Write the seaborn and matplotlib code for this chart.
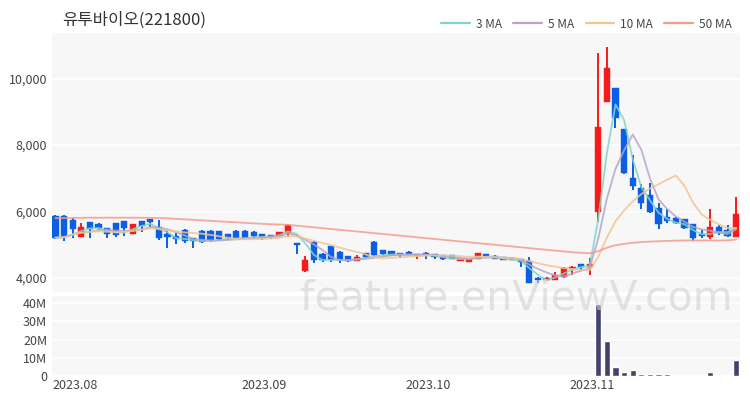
import numpy as np
import pandas as pd
import matplotlib
matplotlib.use("Agg")
import matplotlib.pyplot as plt
from matplotlib.lines import Line2D
import seaborn as sns

# ---------------- data ----------------
dates = (
    ["2023-07-27", "2023-07-28", "2023-07-31"]
    + ["2023-08-%02d" % d for d in [1, 2, 3, 4, 7, 8, 9, 10, 11, 14, 16, 17, 18, 21, 22, 23, 24, 25, 28, 29, 30, 31]]
    + ["2023-09-%02d" % d for d in [1, 4, 5, 6, 7, 8, 11, 12, 13, 14, 15, 18, 19, 20, 21, 22, 25, 26, 27]]
    + ["2023-10-%02d" % d for d in [4, 5, 6, 10, 11, 12, 13, 16, 17, 18, 19, 20, 23, 24, 25, 26, 27, 30, 31]]
    + ["2023-11-%02d" % d for d in [1, 2, 3, 6, 7, 8, 9, 10, 13, 14, 15, 16, 17, 20, 21, 22, 23]]
)

opens = [5875, 5875, 5745, 5243, 5675, 5615, 5494, 5645, 5715, 5323,
         5715, 5765, 5544, 5314, 5263, 5444, 5193, 5424, 5424, 5414,
         5314, 5424, 5424, 5394, 5314, 5293, 5273, 5363, 5053, 4200,
         5093, 4712, 4963, 4792, 4662, 4521, 4742, 5093, 4842, 4802,
         4742, 4792, 4652, 4762, 4712, 4692, 4682, 4511, 4491, 4572,
         4722, 4662, 4622, 4612, 4570, 4501, 4010, 3940, 3940, 4020,
         4260, 4421, 4321, 5995, 9304, 9705, 8472, 7018, 6697, 6497,
         6096, 5845, 5815, 5765, 5614, 5324, 5223, 5524, 5454, 5223]
highs = [5895, 5895, 5795, 5644, 5700, 5645, 5515, 5660, 5730, 5640,
         5730, 5775, 5735, 5444, 5344, 5474, 5200, 5430, 5430, 5420,
         5320, 5430, 5430, 5400, 5320, 5300, 5394, 5620, 5063, 4662,
         5100, 4742, 4975, 4800, 4670, 4692, 4750, 5100, 4850, 4810,
         4750, 4800, 4720, 4770, 4720, 4700, 4690, 4570, 4570, 4755,
         4730, 4680, 4630, 4620, 4580, 4642, 4020, 4020, 4190, 4330,
         4350, 4430, 4591, 10758, 10958, 9720, 8480, 7700, 6828, 6868,
         6246, 6066, 5830, 5775, 5620, 5444, 6076, 5595, 5595, 6447]
lows = [5160, 5120, 5193, 5243, 5213, 5444, 5213, 5223, 5273, 5310,
        5394, 5494, 5143, 4893, 5013, 5063, 4913, 5063, 5093, 5130,
        5143, 5193, 5163, 5173, 5133, 5173, 5263, 5243, 4722, 4190,
        4461, 4491, 4491, 4461, 4491, 4510, 4592, 4642, 4692, 4690,
        4612, 4680, 4580, 4572, 4572, 4555, 4560, 4500, 4480, 4565,
        4610, 4570, 4530, 4530, 4341, 3840, 3860, 3930, 3930, 4000,
        4090, 4241, 4090, 5694, 9304, 8527, 7140, 6647, 6066, 5965,
        5484, 5644, 5630, 5464, 5123, 5193, 5163, 5293, 5233, 5223]
closes = [5213, 5243, 5464, 5544, 5474, 5494, 5313, 5293, 5494, 5625,
          5574, 5700, 5193, 5243, 5163, 5123, 5123, 5093, 5143, 5173,
          5193, 5213, 5193, 5263, 5243, 5243, 5374, 5594, 5000, 4541,
          4541, 4541, 4541, 4541, 4521, 4642, 4642, 4692, 4722, 4702,
          4712, 4692, 4712, 4692, 4622, 4572, 4572, 4561, 4561, 4742,
          4622, 4582, 4541, 4541, 4490, 3860, 3940, 4010, 4090, 4310,
          4341, 4341, 4411, 8552, 10307, 8803, 7148, 6767, 6266, 5995,
          5624, 5725, 5644, 5494, 5193, 5263, 5524, 5364, 5253, 5925]
volumes_m = [0.35, 0.30, 0.25, 0.20, 0.18, 0.15, 0.20, 0.18, 0.15, 0.20,
             0.15, 0.12, 0.25, 0.30, 0.20, 0.18, 0.22, 0.15, 0.12, 0.10,
             0.10, 0.10, 0.12, 0.10, 0.10, 0.10, 0.12, 0.25, 0.30, 0.35,
             0.30, 0.15, 0.25, 0.15, 0.12, 0.12, 0.10, 0.25, 0.12, 0.10,
             0.10, 0.10, 0.10, 0.10, 0.10, 0.10, 0.08, 0.08, 0.08, 0.15,
             0.10, 0.08, 0.08, 0.08, 0.12, 0.45, 0.20, 0.12, 0.15, 0.25,
             0.15, 0.12, 0.30, 39.7, 19.0, 5.2, 2.4, 3.4, 1.1, 1.1,
             1.0, 1.0, 0.5, 0.5, 0.7, 0.4, 2.2, 0.4, 0.3, 8.8]
ma50 = [5800, 5805, 5810, 5812, 5815, 5815, 5815, 5815, 5815, 5815,
        5814, 5810, 5805, 5795, 5780, 5765, 5750, 5735, 5720, 5705,
        5690, 5675, 5660, 5645, 5630, 5620, 5610, 5600, 5575, 5550,
        5525, 5500, 5475, 5450, 5425, 5400, 5375, 5350, 5325, 5300,
        5275, 5250, 5225, 5200, 5175, 5150, 5125, 5100, 5075, 5050,
        5025, 5000, 4975, 4950, 4925, 4900, 4875, 4850, 4825, 4800,
        4775, 4760, 4745, 4809, 4912, 4986, 5026, 5059, 5081, 5097,
        5106, 5116, 5125, 5130, 5129, 5129, 5132, 5127, 5132, 5160]

title = "유투바이오(221800)"
month_labels = ["2023.08", "2023.09", "2023.10", "2023.11"]
ma_labels = ["3 MA", "5 MA", "10 MA", "50 MA"]
price_ticks = [4000, 6000, 8000, 10000]
volume_ticks_m = [0, 10, 20, 30, 40]
watermark = "feature.enViewV.com"

# ---------------- styling ----------------
sns.set_theme(style="white")
plt.rcParams["font.family"] = ["Noto Sans CJK KR", "DejaVu Sans"]

UP = "#f71a1a"
DOWN = "#0b5fe6"
MA_COLORS = ["#7fd5c6", "#b7a3ca", "#f3c48f", "#f69a90"]
BG = "#f7f7f7"
TXT = "#444444"

df = pd.DataFrame({"date": pd.to_datetime(dates), "open": opens, "high": highs,
                   "low": lows, "close": closes, "vol": volumes_m, "ma50": ma50})
df["x"] = np.arange(len(df))
df["ma3"] = df["close"].rolling(3, min_periods=1).mean()
df["ma5"] = df["close"].rolling(5, min_periods=1).mean()
df["ma10"] = df["close"].rolling(10, min_periods=1).mean()
df["up"] = df["close"] >= df["open"]
df["color"] = np.where(df["up"], UP, DOWN)

W, H = 750, 400
fig = plt.figure(figsize=(W / 100, H / 100), dpi=100)
ax = fig.add_axes([52 / W, 1 - 292 / H, 688 / W, 259 / H])
axv = fig.add_axes([52 / W, 1 - 376 / H, 688 / W, 80 / H], sharex=ax)

for a in (ax, axv):
    a.set_facecolor(BG)
    for s in a.spines.values():
        s.set_visible(False)
    a.tick_params(length=0, colors=TXT, labelsize=9)
    a.yaxis.grid(True, color="white", lw=1.2)
    a.set_axisbelow(True)

# candles
ax.vlines(df["x"], df["low"], df["high"], colors=df["color"], lw=1.4, zorder=2)
body_low = np.minimum(df["open"], df["close"])
body_h = np.maximum(np.abs(df["close"] - df["open"]), 25)
ax.bar(df["x"], body_h, bottom=body_low, width=0.72, color=df["color"],
       edgecolor=df["color"], lw=0.3, zorder=3)

# moving averages
for col, c, lab in zip(["ma3", "ma5", "ma10", "ma50"], MA_COLORS, ma_labels):
    sns.lineplot(data=df, x="x", y=col, ax=ax, color=c, lw=1.3, alpha=0.85,
                 zorder=4, legend=False)

ax.set_ylim(3580, 11370)
ax.set_yticks(price_ticks)
ax.set_yticklabels([f"{v:,}" for v in price_ticks])
ax.set_xlim(-0.4, len(df) - 0.55)
ax.set_xlabel("")
ax.set_ylabel("")
plt.setp(ax.get_xticklabels(), visible=False)

# volume
axv.bar(df["x"], df["vol"], width=0.72, color="#42426c", zorder=3)
axv.set_ylim(0, 44)
axv.set_yticks(volume_ticks_m)
axv.set_yticklabels(["0" if v == 0 else f"{v}M" for v in volume_ticks_m])
axv.set_ylabel("")
axv.set_xlabel("")

# month ticks at month boundaries
months = df["date"].dt.to_period("M")
first_idx = [int(df.index[months == m][0]) for m in months.unique()
             if df["date"][months == m].iloc[0].day <= 4]
tick_pos = [i - 0.75 for i in first_idx]
axv.set_xticks(tick_pos)
axv.set_xticklabels(month_labels)
axv.tick_params(axis="x", pad=2)

# title, legend, watermark
fig.text(62 / W, 1 - 20 / H, title, fontsize=12, color="#333333", va="center", ha="left")
handles = [Line2D([0], [0], color=c, lw=1.6) for c in MA_COLORS]
fig.legend(handles, ma_labels, loc="center right", bbox_to_anchor=(742 / W, 1 - 24 / H),
           ncol=4, frameon=False, fontsize=8.5, handlelength=2.4, handletextpad=0.5,
           columnspacing=1.0, labelcolor=TXT)
fig.text(300 / W, 1 - 299 / H, watermark, fontsize=29.5, color="#d2d2d2", alpha=0.6,
         va="center", ha="left", family="DejaVu Sans", zorder=10)

fig.savefig("out.png", dpi=100, facecolor="white")
